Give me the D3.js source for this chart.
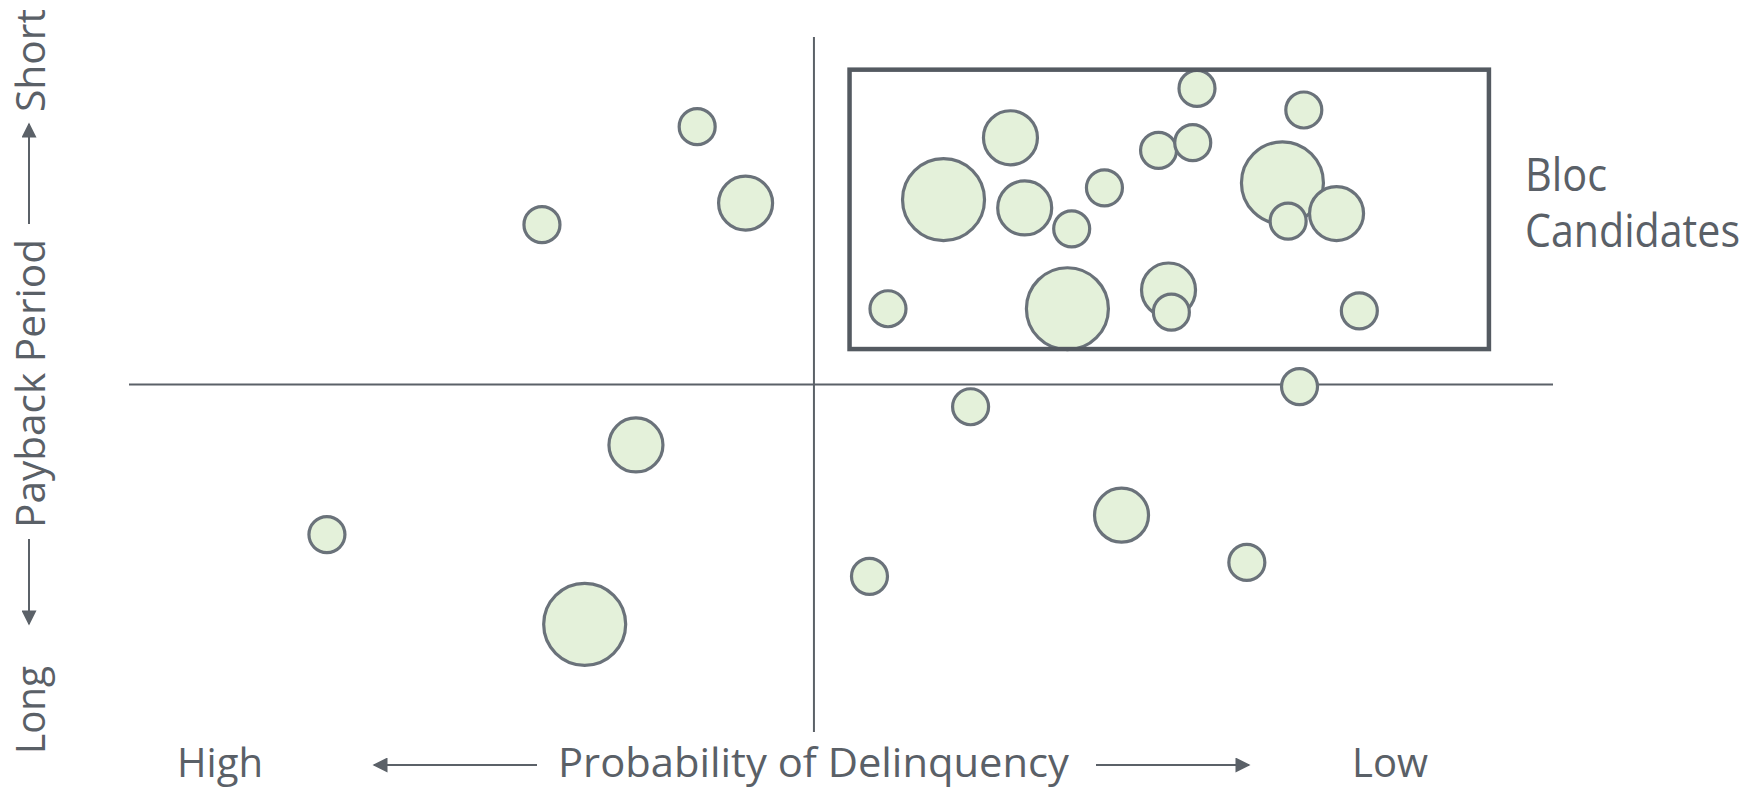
<!DOCTYPE html>
<html>
<head>
<meta charset="utf-8">
<script src="https://cdn.jsdelivr.net/npm/d3@7"></script>
<style>
  html, body { margin: 0; padding: 0; background: #ffffff; }
  svg { display: block; }
  text { font-family: "Open Sans", "Noto Sans", sans-serif; fill: #5a6067; }
</style>
</head>
<body>
<svg id="chart" width="1761" height="788"></svg>
<script>
// ---- Data (x: delinquency score, 0 = high prob. … 100 = low prob.; y: payback score, 0 = long … 100 = short)
const names   = ["A1","A2","A3","B1","B2","B3","C1","C2","C3","C4","C5","D1","D2","D3","D4","D5","D6","D7","D8","D9","D10","D11","D12","D13","D14","D15","D16","D17"];
const xValues = [39.9,43.3,29.0,35.6,13.9,32.0,52.0,59.1,69.7,78.5,82.2,53.3,65.9,73.0,73.2,86.4,57.2,61.9,62.9,66.2,68.5,72.3,74.7,75.0,82.5,81.0,81.4,84.8];
const yValues = [87.1,76.1,73.0,41.3,28.4,15.5,22.4,46.8,31.2,24.4,49.7,60.9,60.9,63.6,60.4,60.6,76.6,85.5,75.4,72.4,78.3,83.7,84.8,92.6,89.5,79.0,73.5,74.6];
const sizes   = [1,2,1,2,1,3,1,1,2,1,1,1,3,2,1,1,3,2,2,1,1,1,1,1,1,3,1,2];
const xMid = 48.1, yMid = 50.0;
const blocX = [50.6, 95.5];
const blocY = [55.1, 95.3];
const blocLabel = ["Bloc", "Candidates"];
const xLabels = ["High", "Probability of Delinquency", "Low"];
const yLabels = ["Long", "Payback Period", "Short"];

const svg = d3.select("#chart");
const x = d3.scaleLinear().domain([0, 100]).range([129, 1553]);
const y = d3.scaleLinear().domain([0, 100]).range([732, 37]);
const r = d3.scaleOrdinal().domain([1, 2, 3]).range([18, 27, 41]);

const lineColor = "#5b6168";

// Defs: arrowhead
svg.append("defs").append("marker")
  .attr("id", "arrow").attr("viewBox", "0 0 10 10")
  .attr("refX", 9).attr("refY", 5)
  .attr("markerWidth", 16).attr("markerHeight", 15)
  .attr("markerUnits", "userSpaceOnUse")
  .attr("orient", "auto")
  .append("path").attr("d", "M0,0 L10,5 L0,10 Z").attr("fill", lineColor);

// Quadrant lines
svg.append("line")
  .attr("x1", x(xMid)).attr("x2", x(xMid))
  .attr("y1", y(100)).attr("y2", y(0))
  .attr("stroke", lineColor).attr("stroke-width", 2);
svg.append("line")
  .attr("x1", x(0)).attr("x2", x(100))
  .attr("y1", y(yMid)).attr("y2", y(yMid))
  .attr("stroke", lineColor).attr("stroke-width", 2);

// Bubbles
const pts = names.map((n, i) => ({ name: n, x: xValues[i], y: yValues[i], s: sizes[i] }));
svg.append("g").selectAll("circle").data(pts).join("circle")
  .attr("cx", d => x(d.x)).attr("cy", d => y(d.y)).attr("r", d => r(d.s))
  .attr("fill", "#e4f1da").attr("stroke", "#6a727a").attr("stroke-width", 3.2);

// Bloc rectangle
svg.append("rect")
  .attr("x", x(blocX[0])).attr("y", y(blocY[1]))
  .attr("width", x(blocX[1]) - x(blocX[0]))
  .attr("height", y(blocY[0]) - y(blocY[1]))
  .attr("fill", "none").attr("stroke", "#545a61").attr("stroke-width", 4.5);

// Bloc label
const lbl = svg.append("g");
lbl.append("text").attr("x", 1525).attr("y", 191).attr("font-size", 45)
  .attr("textLength", 82).attr("lengthAdjust", "spacingAndGlyphs").text(blocLabel[0]);
lbl.append("text").attr("x", 1525).attr("y", 247).attr("font-size", 45)
  .attr("textLength", 215).attr("lengthAdjust", "spacingAndGlyphs").text(blocLabel[1]);

// X axis label
const xl = svg.append("g");
const xBase = 777, xArrowY = 765;
xl.append("text").attr("x", 177).attr("y", xBase).attr("font-size", 40)
  .attr("textLength", 86).attr("lengthAdjust", "spacingAndGlyphs").text(xLabels[0]);
xl.append("text").attr("x", 558).attr("y", xBase).attr("font-size", 40)
  .attr("textLength", 511).attr("lengthAdjust", "spacingAndGlyphs").text(xLabels[1]);
xl.append("text").attr("x", 1352).attr("y", xBase).attr("font-size", 40)
  .attr("textLength", 76).attr("lengthAdjust", "spacingAndGlyphs").text(xLabels[2]);
xl.append("line").attr("x1", 537).attr("x2", 374).attr("y1", xArrowY).attr("y2", xArrowY)
  .attr("stroke", lineColor).attr("stroke-width", 2).attr("marker-end", "url(#arrow)");
xl.append("line").attr("x1", 1096).attr("x2", 1249).attr("y1", xArrowY).attr("y2", xArrowY)
  .attr("stroke", lineColor).attr("stroke-width", 2).attr("marker-end", "url(#arrow)");

// Y axis label (rotated)
const yl = svg.append("g").attr("transform", "translate(45,0) rotate(-90)");
yl.append("text").attr("x", -754).attr("y", 0).attr("font-size", 41)
  .attr("textLength", 88).attr("lengthAdjust", "spacingAndGlyphs").text(yLabels[0]);
yl.append("text").attr("x", -528).attr("y", 0).attr("font-size", 41)
  .attr("textLength", 289).attr("lengthAdjust", "spacingAndGlyphs").text(yLabels[1]);
yl.append("text").attr("x", -112).attr("y", 0).attr("font-size", 41)
  .attr("textLength", 103).attr("lengthAdjust", "spacingAndGlyphs").text(yLabels[2]);
yl.append("line").attr("x1", -539).attr("x2", -624).attr("y1", -16).attr("y2", -16)
  .attr("stroke", lineColor).attr("stroke-width", 2).attr("marker-end", "url(#arrow)");
yl.append("line").attr("x1", -224).attr("x2", -124).attr("y1", -16).attr("y2", -16)
  .attr("stroke", lineColor).attr("stroke-width", 2).attr("marker-end", "url(#arrow)");
</script>
</body>
</html>
